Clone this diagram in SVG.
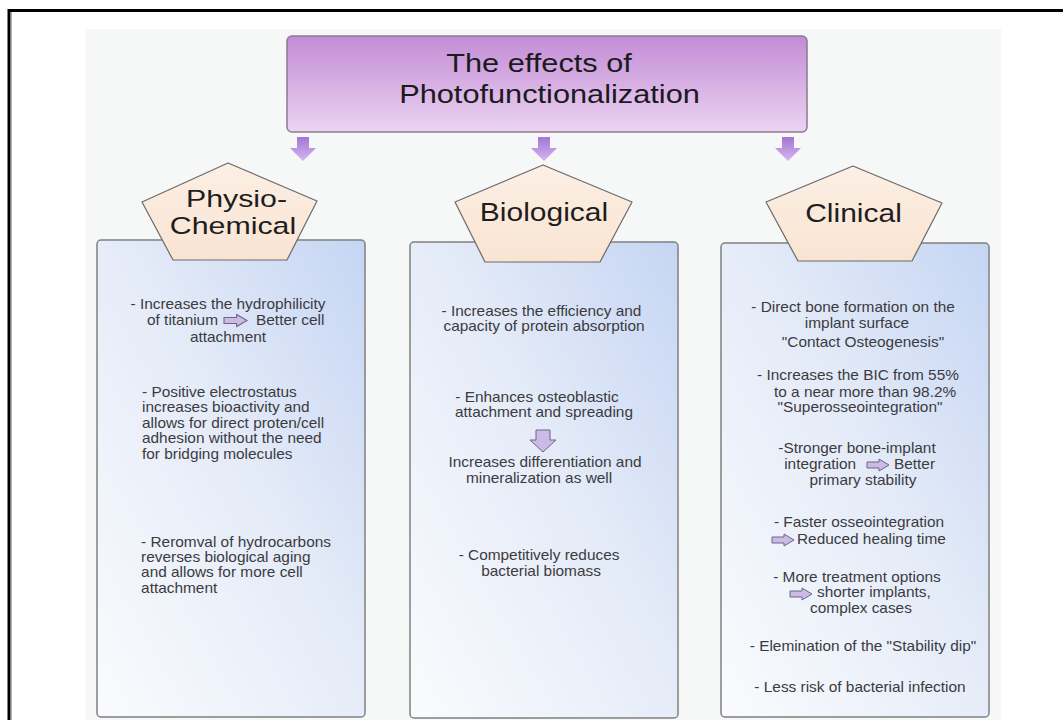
<svg xmlns="http://www.w3.org/2000/svg" xmlns:xlink="http://www.w3.org/1999/xlink" width="1063" height="720" viewBox="0 0 1063 720">
  <defs>
    <linearGradient id="gTitle" x1="0" y1="0" x2="0" y2="1">
      <stop offset="0" stop-color="#c38cd5"/>
      <stop offset="1" stop-color="#ebd4f2"/>
    </linearGradient>
    <linearGradient id="gDown" x1="0" y1="0" x2="0" y2="1">
      <stop offset="0" stop-color="#a274d6"/>
      <stop offset="1" stop-color="#d4b8ee"/>
    </linearGradient>
    <linearGradient id="gPent" x1="0" y1="0" x2="0" y2="1">
      <stop offset="0" stop-color="#fcefe4"/>
      <stop offset="1" stop-color="#f9e4d2"/>
    </linearGradient>
    <linearGradient id="gBox" x1="0" y1="1" x2="1" y2="0">
      <stop offset="0" stop-color="#fafbfd"/>
      <stop offset="0.55" stop-color="#e4ebf8"/>
      <stop offset="1" stop-color="#c5d5f3"/>
    </linearGradient>
    <path id="rarrow" d="M0,-3 H12 V-6 L22,0 L12,6 V3 H0 Z"/>
    <style>
      .title{font-family:"Liberation Sans",Arial,sans-serif;font-size:26.5px;fill:#1c1a1e;text-anchor:middle}
      .head{font-family:"Liberation Sans",Arial,sans-serif;font-size:25px;fill:#1e1e1e;text-anchor:middle}
      .head2{font-family:"Liberation Sans",Arial,sans-serif;font-size:23.5px;fill:#1e1e1e;text-anchor:middle}
      .body{font-family:"Liberation Sans",Arial,sans-serif;font-size:14px;fill:#3b3b3f}
      .c{text-anchor:middle}
      .e{text-anchor:end}
      .s{text-anchor:start}
      .box{fill:url(#gBox);stroke:#808080;stroke-width:1.5}
      .pent{fill:url(#gPent);stroke:#6a6a6a;stroke-width:1.2;stroke-linejoin:round}
      .down{fill:url(#gDown)}
      .ia{fill:#cbb9e6;stroke:#6e6488;stroke-width:1}
    </style>
  </defs>

  <!-- page -->
  <rect x="0" y="0" width="1063" height="720" fill="#ffffff"/>
  <rect x="85" y="29" width="916" height="700" fill="#f6f7f7"/>
  <line x1="11.5" y1="12" x2="11.5" y2="720" stroke="#b0b0b0" stroke-width="1"/>
  <line x1="8" y1="10.5" x2="1063" y2="10.5" stroke="#000" stroke-width="3"/>
  <line x1="9" y1="9" x2="9" y2="720" stroke="#000" stroke-width="3"/>

  <!-- title node -->
  <g id="title">
    <rect x="287" y="36" width="520" height="96" rx="5" fill="url(#gTitle)" stroke="#8a7b8f" stroke-width="1.5"/>
    <text class="title" transform="translate(539 72) scale(1.16 1)">The effects of</text>
    <text class="title" transform="translate(549.5 102.5) scale(1.16 1)">Photofunctionalization</text>
  </g>

  <!-- connectors -->
  <g id="connectors">
    <path class="down" d="M297,137 H309 V148 H316 L303,161 L290,148 H297 Z"/>
    <path class="down" d="M538,137 H550 V148 H557 L544,161 L531,148 H538 Z"/>
    <path class="down" d="M782,137 H794 V148 H801 L788,161 L775,148 H782 Z"/>
  </g>

  <!-- column boxes -->
  <g id="box-physio"><rect class="box" x="97" y="240" width="268" height="477" rx="4"/></g>
  <g id="box-bio"><rect class="box" x="410" y="242" width="268" height="476" rx="4"/></g>
  <g id="box-clin"><rect class="box" x="721" y="243" width="268" height="474" rx="4"/></g>

  <!-- heading pentagons -->
  <g id="head-physio">
    <polygon class="pent" points="228,163 317,201 287,260 173,260 142,202"/>
    <text class="head2" transform="translate(236.5 207) scale(1.29 1)">Physio-</text>
    <text class="head2" transform="translate(233 233.5) scale(1.29 1)">Chemical</text>
  </g>
  <g id="head-bio">
    <polygon class="pent" points="543,165 632,202 600,262 485,262 455,202"/>
    <text class="head" transform="translate(544 221) scale(1.2 1)">Biological</text>
  </g>
  <g id="head-clin">
    <polygon class="pent" points="853,166 942,203 912,261 798,261 766,202"/>
    <text class="head" transform="translate(853.5 222) scale(1.2 1)">Clinical</text>
  </g>

  <!-- column 1 text -->
  <g id="text-physio">
    <g class="body" transform="translate(228 0) scale(1.1 1)">
      <text class="c" x="0" y="309">- Increases the hydrophilicity</text>
      <text class="e" x="-9.1" y="325">of titanium</text>
      <text class="s" x="25.5" y="325">Better cell</text>
      <text class="c" x="0" y="342">attachment</text>
      <text class="s" x="-78.2" y="397">- Positive electrostatus</text>
      <text class="s" x="-78.2" y="412.5">increases bioactivity and</text>
      <text class="s" x="-78.2" y="428">allows for direct proten/cell</text>
      <text class="s" x="-78.2" y="443.5">adhesion without the need</text>
      <text class="s" x="-78.2" y="459">for bridging molecules</text>
      <text class="s" x="-79" y="547">- Reromval of hydrocarbons</text>
      <text class="s" x="-79" y="562">reverses biological aging</text>
      <text class="s" x="-79" y="577.5">and allows for more cell</text>
      <text class="s" x="-79" y="593">attachment</text>
    </g>
    <use href="#rarrow" xlink:href="#rarrow" class="ia" transform="translate(224 320.5) scale(1.05 1)"/>
  </g>

  <!-- column 2 text -->
  <g id="text-bio">
    <g class="body" transform="translate(543 0) scale(1.1 1)">
      <text class="c" x="-1.4" y="316">- Increases the efficiency and</text>
      <text class="c" x="0.9" y="331">capacity of protein absorption</text>
      <text class="c" x="-5.5" y="402">- Enhances osteoblastic</text>
      <text class="c" x="0.9" y="417">attachment and spreading</text>
      <text class="c" x="1.8" y="467">Increases differentiation and</text>
      <text class="c" x="-3.6" y="483">mineralization as well</text>
      <text class="c" x="-3.6" y="560">- Competitively reduces</text>
      <text class="c" x="-1.8" y="576">bacterial biomass</text>
    </g>
    <path class="ia" d="M536,430 H550 V440 H556 L543,452 L530,440 H536 Z"/>
  </g>

  <!-- column 3 text -->
  <g id="text-clin">
    <g class="body" transform="translate(858 0) scale(1.1 1)">
      <text class="c" x="-4.5" y="312">- Direct bone formation on the</text>
      <text class="c" x="-0.9" y="328">implant surface</text>
      <text class="c" x="4.5" y="347">"Contact  Osteogenesis"</text>
      <text class="c" x="0" y="380">- Increases the BIC from 55%</text>
      <text class="c" x="6.4" y="397">to a near more than 98.2%</text>
      <text class="c" x="1.8" y="412">"Superosseointegration"</text>
      <text class="c" x="-0.9" y="453">-Stronger bone-implant</text>
      <text class="e" x="-1.8" y="469">integration</text>
      <text class="s" x="32.7" y="469">Better</text>
      <text class="c" x="4.5" y="485">primary stability</text>
      <text class="c" x="0.9" y="527">- Faster osseointegration</text>
      <text class="s" x="-55.5" y="544">Reduced healing time</text>
      <text class="c" x="-0.9" y="582">- More treatment options</text>
      <text class="s" x="-37.3" y="597">shorter implants,</text>
      <text class="c" x="2.7" y="613">complex cases</text>
      <text class="c" x="4.5" y="651">- Elemination of the "Stability dip"</text>
      <text class="c" x="1.8" y="692">- Less risk of bacterial infection</text>
    </g>
    <use href="#rarrow" xlink:href="#rarrow" class="ia" transform="translate(867 465)"/>
    <use href="#rarrow" xlink:href="#rarrow" class="ia" transform="translate(772 540)"/>
    <use href="#rarrow" xlink:href="#rarrow" class="ia" transform="translate(790 594)"/>
  </g>
</svg>
